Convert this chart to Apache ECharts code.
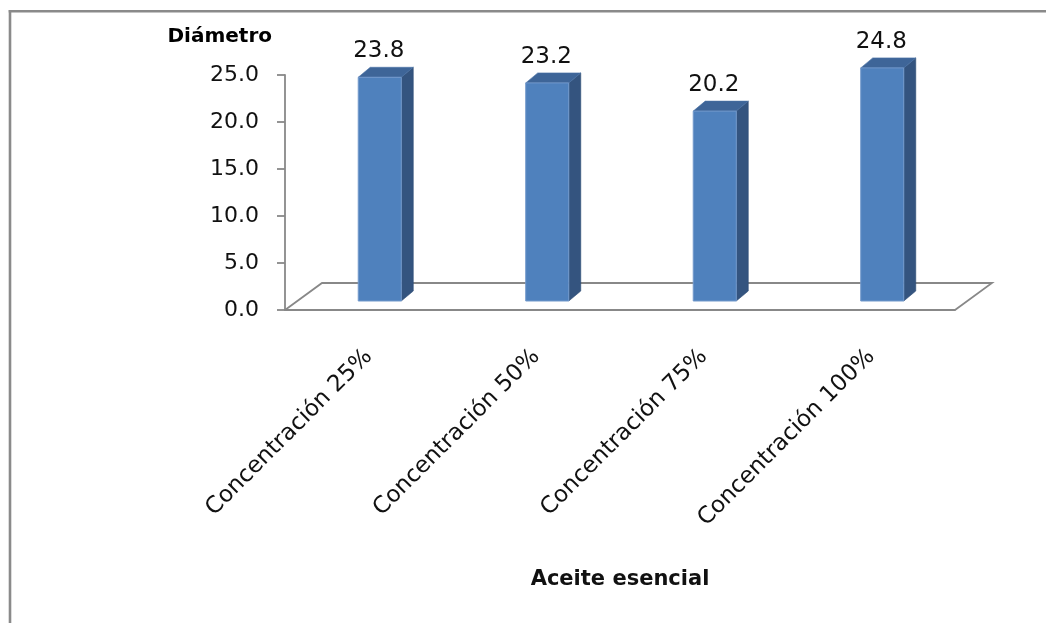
<!DOCTYPE html>
<html><head><meta charset="utf-8">
<script src="https://cdn.jsdelivr.net/npm/echarts@6/dist/echarts.min.js"></script>
<style>html,body{margin:0;padding:0;background:#fff}#c{width:1046px;height:623px}</style>
</head><body><div id="c"></div>
<script>
// ---- data ----
const categories = ['Concentración 25%', 'Concentración 50%', 'Concentración 75%', 'Concentración 100%'];
const values = [23.8, 23.2, 20.2, 24.8];
const yTicks = [0, 5, 10, 15, 20, 25];
const xTitle = 'Aceite esencial';
const yTitle = 'Diámetro';

// ---- style ----
const FONT = 'DejaVu Sans';
const AXIS_GRAY = '#888888';
const BAR_SHIFT = 11;         // bars stand inside the floor depth (3D perspective)
const BAR_LIFT = 9;
const BAR_DX = 12, BAR_DY = 10;     // bar depth
const FLOOR_DX = 37, FLOOR_DY = 27; // floor depth

const chart = echarts.init(document.getElementById('c'), null, {renderer: 'canvas'});

function floorItem(params, api) {
  const cs = params.coordSys;
  const x0 = cs.x, x1 = cs.x + cs.width, y0 = cs.y + cs.height;
  return {
    type: 'polyline', silent: true,
    shape: {points: [[x1, y0], [x1 + FLOOR_DX, y0 - FLOOR_DY], [x0 + FLOOR_DX, y0 - FLOOR_DY], [x0, y0]]},
    style: {stroke: AXIS_GRAY, fill: null, lineWidth: 1.8}
  };
}

function barItem(params, api) {
  const i = api.value(0), v = api.value(1);
  const top = api.coord([i, v]);
  const base = api.coord([i, 0]);
  const w = api.size([1, 0])[0] * 0.257;
  const cx = top[0] + BAR_SHIFT;
  const xl = cx - w / 2, xr = cx + w / 2;
  const yt = top[1] - BAR_LIFT, yb = base[1] - BAR_LIFT;
  return {
    type: 'group',
    children: [
      {type: 'polygon', shape: {points: [[xr, yb], [xr, yt], [xr + BAR_DX, yt - BAR_DY], [xr + BAR_DX, yb - BAR_DY]]},
        style: {fill: '#34547F', stroke: '#2E4B73', lineWidth: 0.6}},
      {type: 'polygon', shape: {points: [[xl, yt], [xr, yt], [xr + BAR_DX, yt - BAR_DY], [xl + BAR_DX, yt - BAR_DY]]},
        style: {fill: '#3E6598', stroke: '#4A72A6', lineWidth: 0.6}},
      {type: 'rect', shape: {x: xl, y: yt, width: w, height: yb - yt},
        style: {fill: '#4F81BD', stroke: '#7399CB', lineWidth: 1}},
      {type: 'text', style: {x: cx - 1, y: yt - 26, text: v.toFixed(1), align: 'center', verticalAlign: 'middle',
        fontFamily: FONT, fontSize: 23, fill: '#111'}}
    ]
  };
}

chart.setOption({
  animation: false,
  backgroundColor: '#ffffff',
  grid: {left: 285, top: 75, width: 670, height: 235, containLabel: false},
  xAxis: {
    type: 'category', data: categories,
    axisLine: {show: true, lineStyle: {color: AXIS_GRAY, width: 1.8}}, axisTick: {show: false}, splitLine: {show: false},
    axisLabel: {interval: 0, rotate: 45, margin: 43, fontFamily: FONT, fontSize: 23, color: '#111'},
    name: xTitle, nameLocation: 'middle', nameGap: 259,
    nameTextStyle: {fontFamily: FONT, fontSize: 21, fontWeight: 'bold', color: '#111'}
  },
  yAxis: {
    type: 'value', min: yTicks[0], max: yTicks[yTicks.length - 1], interval: yTicks[1] - yTicks[0],
    axisLine: {show: true, lineStyle: {color: AXIS_GRAY, width: 1.8}},
    axisTick: {show: true, length: 8, lineStyle: {color: AXIS_GRAY, width: 1.8}},
    splitLine: {show: false},
    axisLabel: {formatter: v => v.toFixed(1), fontFamily: FONT, fontSize: 22, color: '#111', margin: 26, padding: [6, 0, 0, 0]},
    name: yTitle, nameLocation: 'end', nameGap: 28,
    nameTextStyle: {fontFamily: FONT, fontSize: 20, fontWeight: 'bold', color: '#000', align: 'right', padding: [0, 13, 0, 0]}
  },
  series: [
    {type: 'custom', renderItem: floorItem, data: [[0, 0]], silent: true, z: 1},
    {type: 'custom', renderItem: barItem, data: values.map((v, i) => [i, v]), encode: {x: 0, y: 1}, z: 2}
  ],
  graphic: [
    {type: 'line', shape: {x1: 10, y1: 10, x2: 10, y2: 623}, style: {stroke: '#8a8a8a', lineWidth: 2.6}},
    {type: 'line', shape: {x1: 8.7, y1: 11.3, x2: 1046, y2: 11.3}, style: {stroke: '#8a8a8a', lineWidth: 2.6}}
  ]
});
</script>
</body></html>
